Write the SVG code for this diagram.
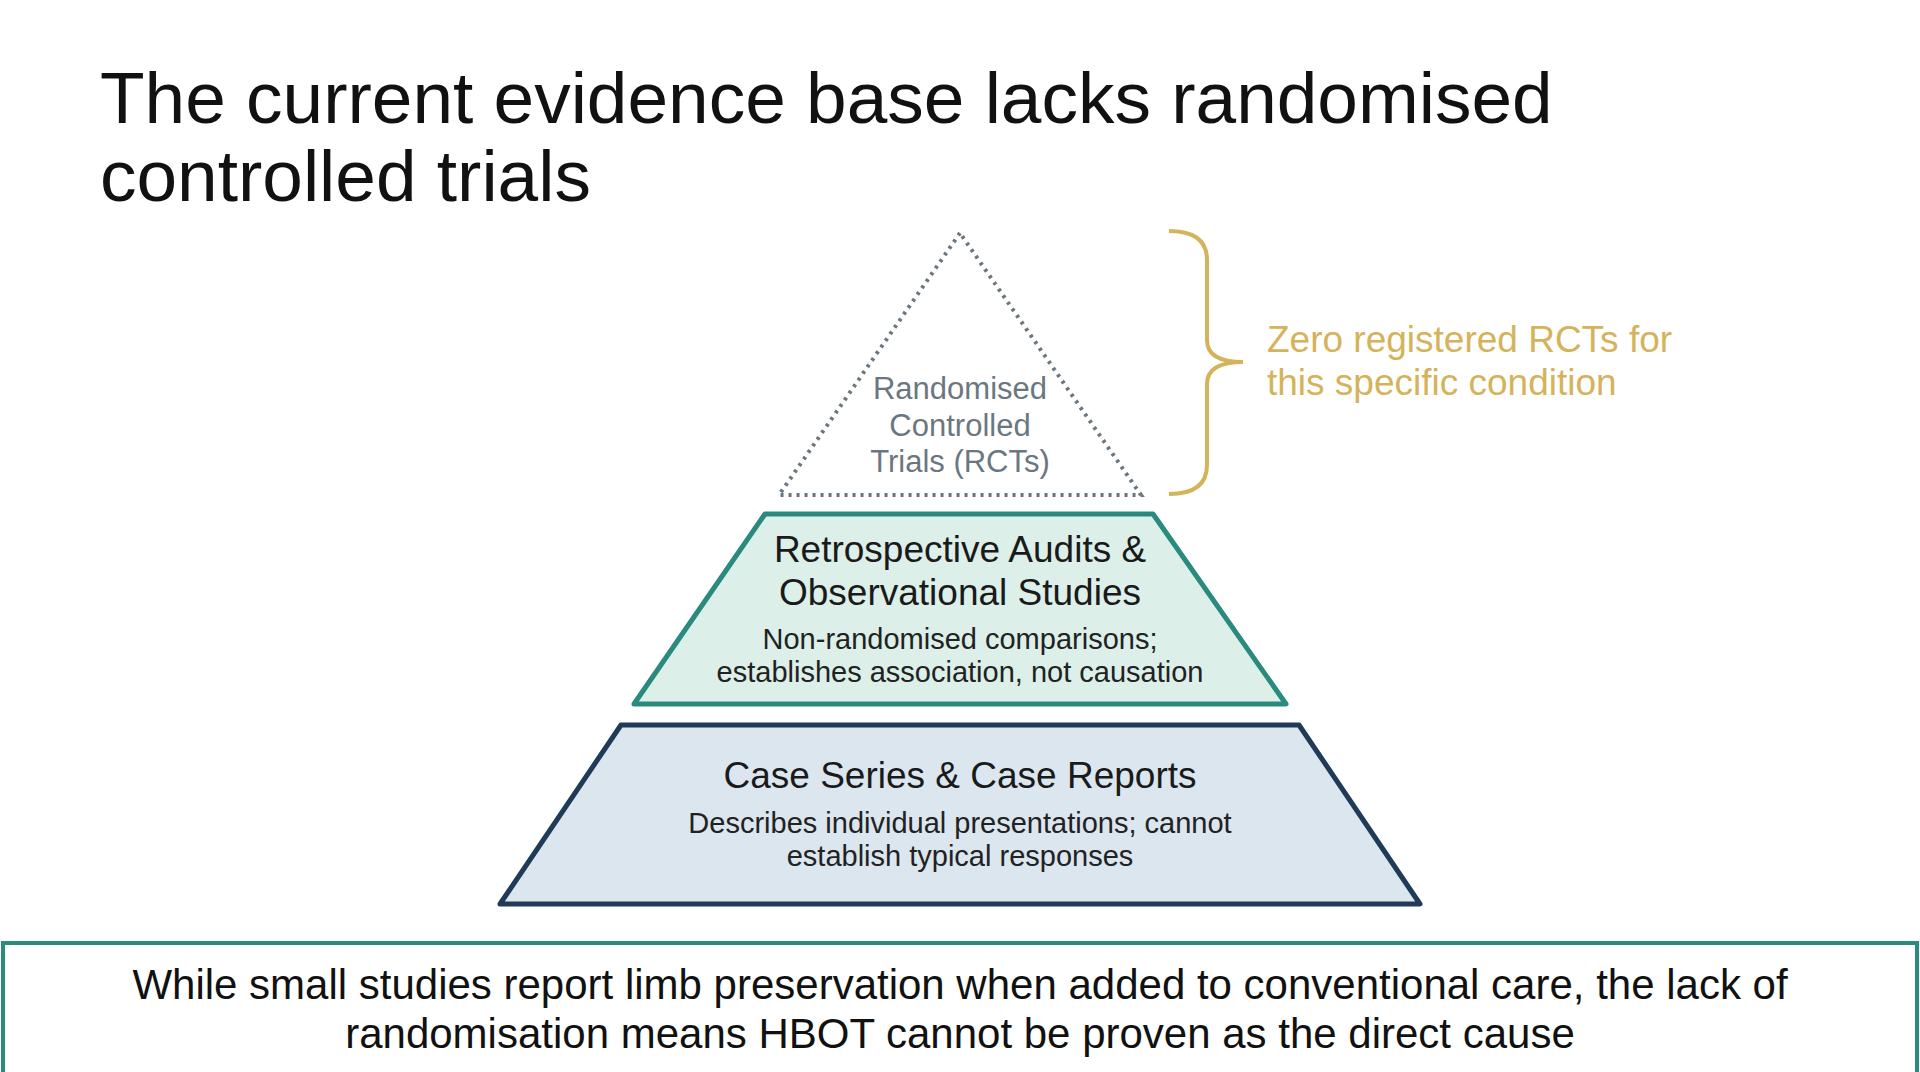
<svg xmlns="http://www.w3.org/2000/svg" width="1920" height="1072" viewBox="0 0 1920 1072">
<style>
text{font-family:"Liberation Sans","DejaVu Sans",sans-serif;text-anchor:middle}
.t{font-size:73px;fill:#111;text-anchor:start}
.h{font-size:37px;fill:#1a1a1a}
.s{font-size:29px;fill:#222}
.g{font-size:31px;fill:#6b7780}
.y{font-size:37px;fill:#d4b35a;text-anchor:start}
</style>
<rect width="1920" height="1072" fill="#fff"/>
<text class="t" x="100" y="123">The current evidence base lacks randomised</text>
<text class="t" x="100" y="201">controlled trials</text>
<g id="rct">
<polygon points="960,233 779,495 1141,495" fill="none" stroke="#6b7780" stroke-width="4" stroke-dasharray="3,5"/>
<text class="g" x="960" y="399">Randomised</text>
<text class="g" x="960" y="436">Controlled</text>
<text class="g" x="960" y="472">Trials (RCTs)</text>
</g>
<g id="note">
<path d="M1169,231 Q1207,231 1207,260 L1207,340 Q1207,362 1243,362 Q1207,362 1207,384 L1207,465 Q1207,494 1169,494" fill="none" stroke="#d4b35a" stroke-width="4"/>
<text class="y" x="1267" y="352">Zero registered RCTs for</text>
<text class="y" x="1267" y="395">this specific condition</text>
</g>
<g id="audits">
<polygon points="765,514 1153,514 1286,704 634,704" fill="#dcefe9" stroke="#2a8a7e" stroke-width="5" stroke-linejoin="round"/>
<text class="h" x="960" y="562">Retrospective Audits &amp;</text>
<text class="h" x="960" y="605">Observational Studies</text>
<text class="s" x="960" y="649">Non-randomised comparisons;</text>
<text class="s" x="960" y="682">establishes association, not causation</text>
</g>
<g id="cases">
<polygon points="621,725 1299,725 1420,904 500,904" fill="#dbe6ef" stroke="#1f3b57" stroke-width="5" stroke-linejoin="round"/>
<text class="h" x="960" y="788">Case Series &amp; Case Reports</text>
<text class="s" x="960" y="833">Describes individual presentations; cannot</text>
<text class="s" x="960" y="866">establish typical responses</text>
</g>
<g id="summary">
<rect x="3" y="943" width="1914" height="140" fill="#fff" stroke="#2a8a7e" stroke-width="4"/>
<text x="960" y="999" style="font-size:42px;fill:#111">While small studies report limb preservation when added to conventional care, the lack of</text>
<text x="960" y="1048" style="font-size:42px;fill:#111">randomisation means HBOT cannot be proven as the direct cause</text>
</g>
<g id="connectors"/>
</svg>
